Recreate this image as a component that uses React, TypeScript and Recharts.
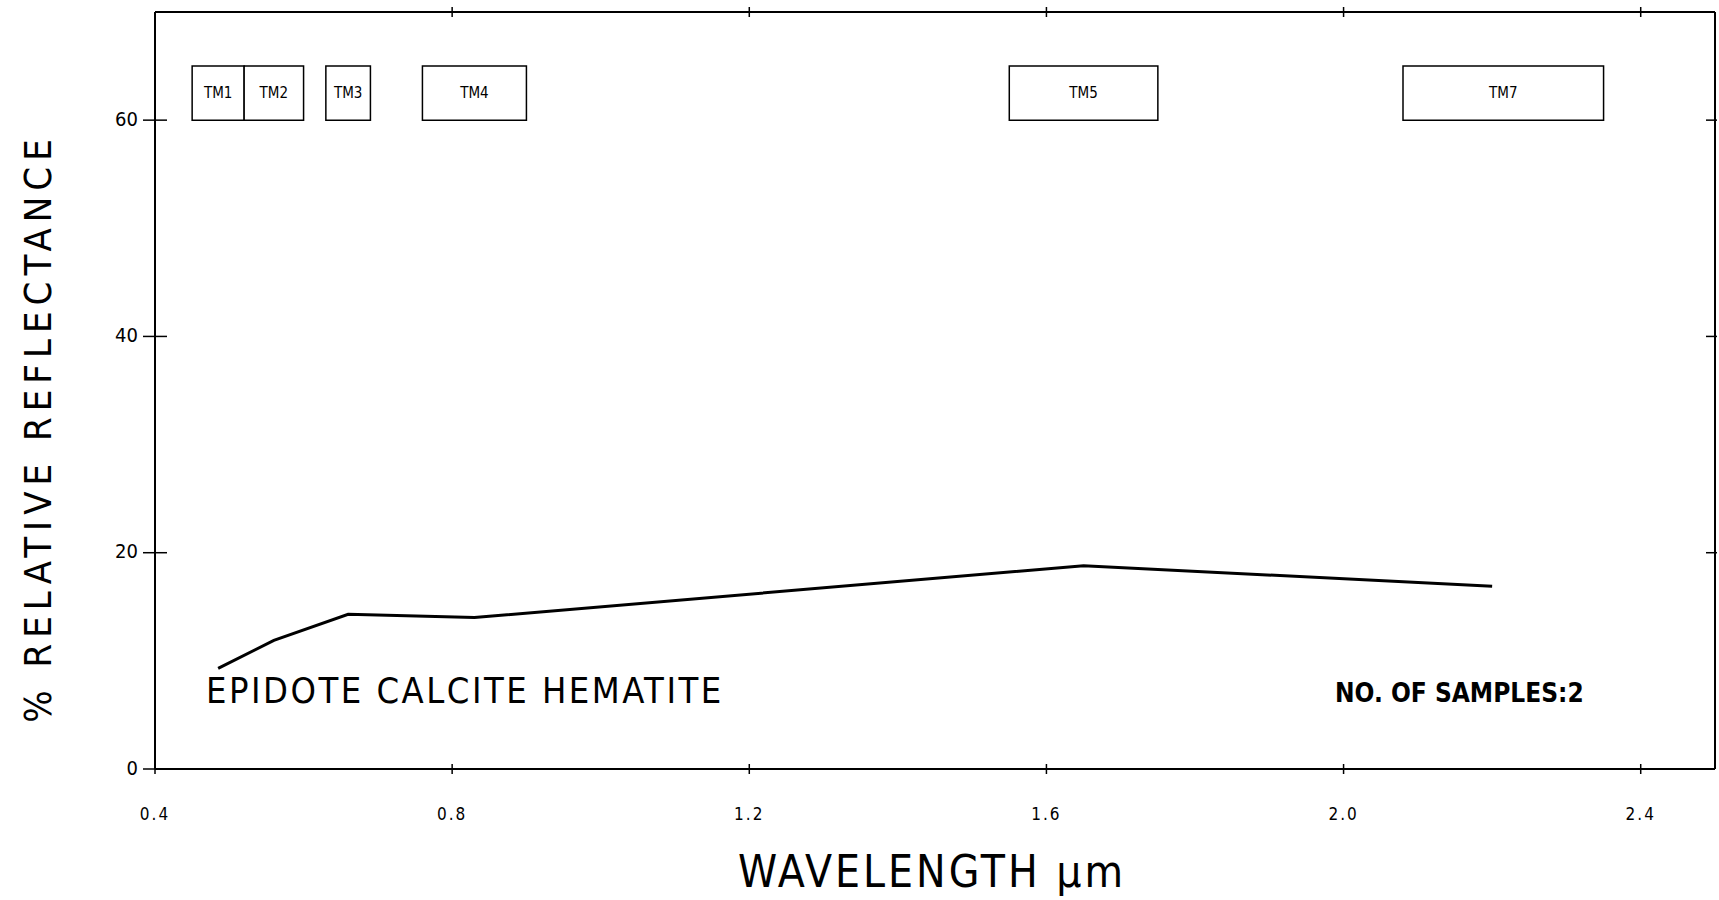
import React from 'react'
import { LineChart, Line, XAxis, YAxis, ReferenceArea } from 'recharts'

// spectral curve, % relative reflectance at TM band centres
const wavelengths = [0.485, 0.56, 0.66, 0.83, 1.65, 2.2]
const reflectance = [9.3, 11.9, 14.3, 14.0, 18.8, 16.9]

// Landsat TM band boxes
const bandNames = ['TM1', 'TM2', 'TM3', 'TM4', 'TM5', 'TM7']
const bandStart = [0.45, 0.52, 0.63, 0.76, 1.55, 2.08]
const bandEnd = [0.52, 0.6, 0.69, 0.9, 1.75, 2.35]
const boxBottom = 60
const boxTop = 65

const xTicks = [0.4, 0.8, 1.2, 1.6, 2.0, 2.4]
const xTopTicks = [0.8, 1.2, 1.6, 2.0, 2.4]
const yTicks = [0, 20, 40, 60]
const yRightTicks = [20, 40, 60]

const data = wavelengths.map((wl, i) => ({ wl, r: reflectance[i] }))

const FONT = "'DejaVu Sans Condensed', 'Liberation Sans Narrow', 'DejaVu Sans', sans-serif"

const BottomTick = (props: any) => {
  const { x, y, payload } = props
  return (
    <g>
      <line x1={x} x2={x} y1={y - 5} y2={y + 5} stroke="#000" strokeWidth={1.5} />
      <text x={x} y={y + 46} textAnchor="middle" dominantBaseline="middle" fontFamily={FONT} fontSize={17} letterSpacing={2} fill="#000">
        {Number(payload.value).toFixed(1)}
      </text>
    </g>
  )
}

const LeftTick = (props: any) => {
  const { x, y, payload } = props
  return (
    <g>
      <line x1={x - 12} x2={x + 12} y1={y} y2={y} stroke="#000" strokeWidth={1.5} />
      <text x={x - 17} y={y} textAnchor="end" dominantBaseline="middle" fontFamily={FONT} fontSize={20} fill="#000">
        {payload.value}
      </text>
    </g>
  )
}

const TopTick = (props: any) => {
  const { x, y } = props
  return <line x1={x} x2={x} y1={y - 5} y2={y + 5} stroke="#000" strokeWidth={1.5} />
}

const RightTick = (props: any) => {
  const { x, y } = props
  return <line x1={x - 9} x2={x + 2} y1={y} y2={y} stroke="#000" strokeWidth={1.5} />
}

export default function App() {
  return (
    <div style={{ position: 'absolute', left: 0, top: 0, width: 1719, height: 900, background: '#fff', fontFamily: FONT }}>
      <LineChart width={1719} height={900} data={data} margin={{ top: 11, right: 3, bottom: 0, left: 0 }}>
        <XAxis
          dataKey="wl"
          type="number"
          domain={[0.4, 2.5]}
          allowDataOverflow
          ticks={xTicks}
          interval={0}
          height={131}
          axisLine={{ stroke: '#000', strokeWidth: 2 }}
          tickLine={false}
          tickSize={0}
          tickMargin={0}
          tick={<BottomTick />}
        />
        <XAxis
          xAxisId="top"
          dataKey="wl"
          orientation="top"
          type="number"
          domain={[0.4, 2.5]}
          allowDataOverflow
          ticks={xTopTicks}
          interval={0}
          height={1}
          axisLine={{ stroke: '#000', strokeWidth: 2 }}
          tickLine={false}
          tickSize={0}
          tickMargin={0}
          tick={<TopTick />}
        />
        <YAxis
          type="number"
          domain={[0, 70]}
          allowDataOverflow
          ticks={yTicks}
          interval={0}
          width={155}
          axisLine={{ stroke: '#000', strokeWidth: 2 }}
          tickLine={false}
          tickSize={0}
          tickMargin={0}
          tick={<LeftTick />}
        />
        <YAxis
          yAxisId="right"
          dataKey="r"
          orientation="right"
          type="number"
          domain={[0, 70]}
          allowDataOverflow
          ticks={yRightTicks}
          interval={0}
          width={1}
          axisLine={{ stroke: '#000', strokeWidth: 2 }}
          tickLine={false}
          tickSize={0}
          tickMargin={0}
          tick={<RightTick />}
        />
        {bandNames.map((name, i) => (
          <ReferenceArea
            key={name}
            x1={bandStart[i]}
            x2={bandEnd[i]}
            y1={boxBottom}
            y2={boxTop}
            fill="#fff"
            fillOpacity={1}
            stroke="#000"
            strokeWidth={1.5}
            label={{ value: name, position: 'center', fontSize: 15, fill: '#000', fontFamily: FONT }}
          />
        ))}
        <Line
          type="linear"
          dataKey="r"
          stroke="#000"
          strokeWidth={3}
          dot={false}
          isAnimationActive={false}
        />
        <Line
          xAxisId="top"
          yAxisId="right"
          type="linear"
          dataKey="r"
          stroke="none"
          dot={false}
          legendType="none"
          isAnimationActive={false}
        />
      </LineChart>

      <div style={{ position: 'absolute', left: 206, top: 691, transform: 'translateY(-50%)', fontSize: 36, lineHeight: 1, letterSpacing: 2.5, whiteSpace: 'nowrap' }}>
        EPIDOTE CALCITE HEMATITE
      </div>
      <div style={{ position: 'absolute', left: 1335, top: 693, transform: 'translateY(-50%)', fontSize: 26, lineHeight: 1, fontWeight: 'bold', whiteSpace: 'nowrap' }}>
        NO. OF SAMPLES:2
      </div>
      <div style={{ position: 'absolute', left: 932, top: 872, transform: 'translate(-50%, -50%)', fontSize: 44, lineHeight: 1, letterSpacing: 3, whiteSpace: 'nowrap' }}>
        WAVELENGTH µm
      </div>
      <div style={{ position: 'absolute', left: 38, top: 428, transform: 'translate(-50%, -50%) rotate(-90deg)', fontSize: 38, lineHeight: 1, letterSpacing: 6, whiteSpace: 'nowrap' }}>
        % RELATIVE REFLECTANCE
      </div>
    </div>
  )
}
